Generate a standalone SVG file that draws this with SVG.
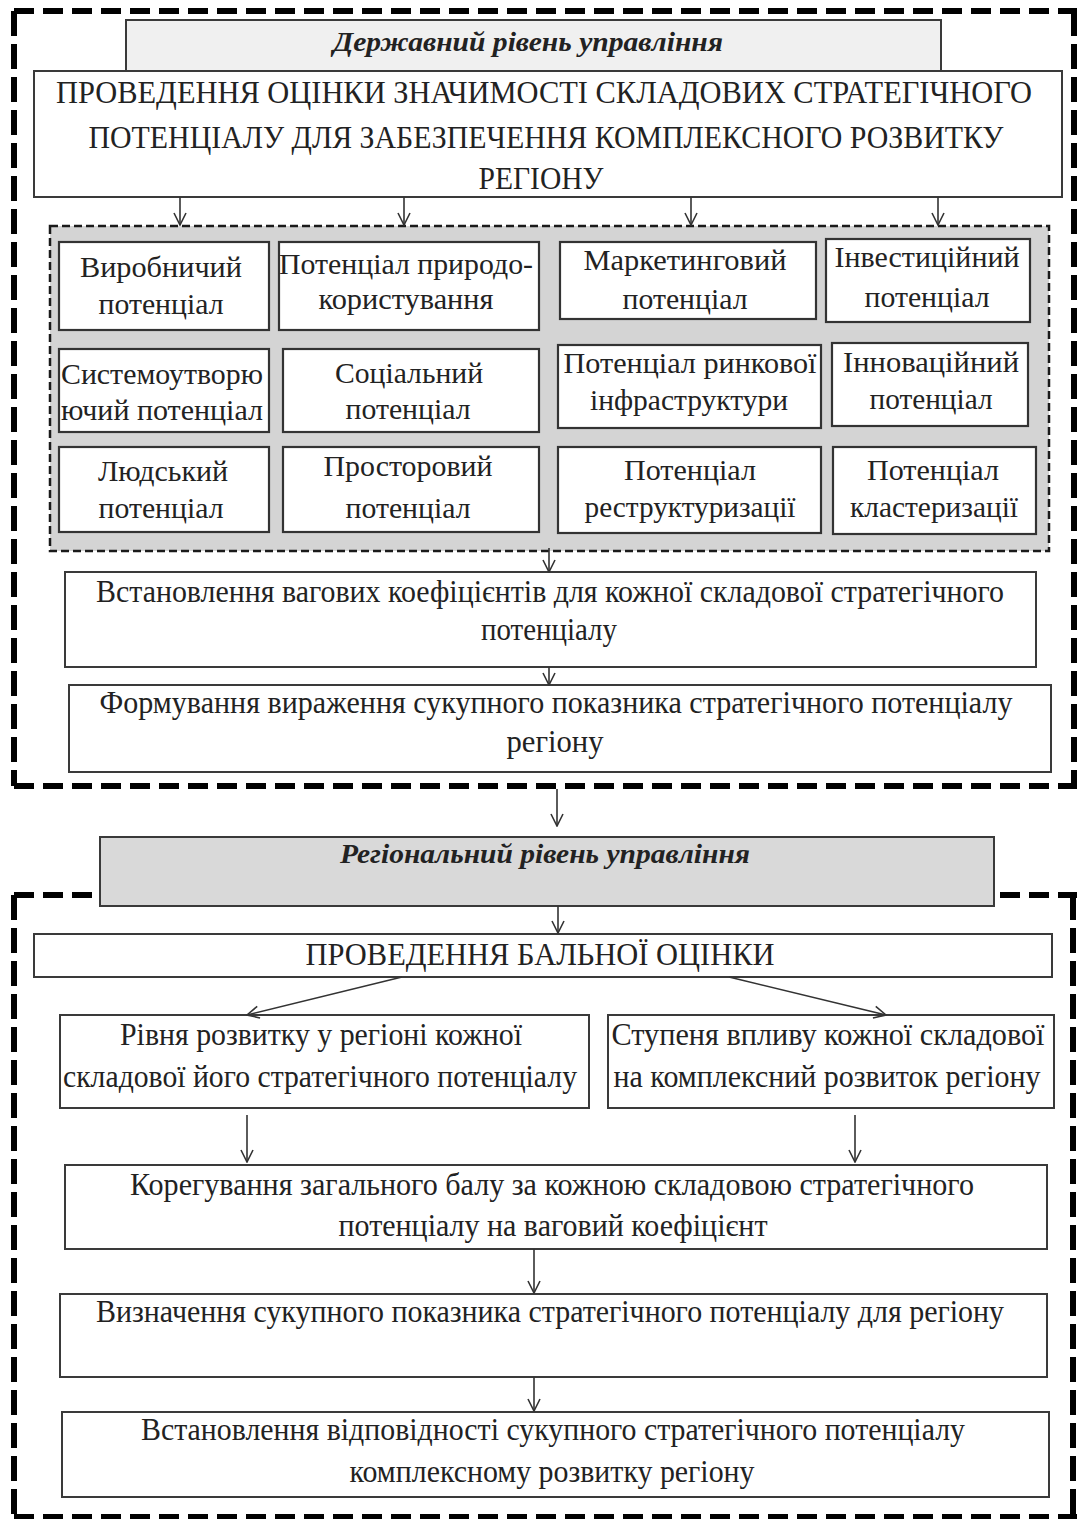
<svg xmlns="http://www.w3.org/2000/svg" width="1077" height="1519" viewBox="0 0 1077 1519">
<style>
.bg{fill:#ffffff}
.fh{stroke:#000;stroke-width:6;fill:none;stroke-dasharray:20 9}
.fv{stroke:#000;stroke-width:6;fill:none;stroke-dasharray:25 8}
.box{fill:#ffffff;stroke:#3a3a3a;stroke-width:2}
.cell{fill:#ffffff;stroke:#333;stroke-width:2.2}
.hd1{fill:#f0f0f0;stroke:#3a3a3a;stroke-width:2}
.hd2{fill:#d9d9d9;stroke:#3a3a3a;stroke-width:2}
.inner{fill:#d4d4d4;stroke:#1a1a1a;stroke-width:2.5;stroke-dasharray:8 4}
.t{font-family:"Liberation Serif","Times New Roman",serif;font-size:31px;fill:#222;text-anchor:middle}
.c{font-family:"Liberation Serif","Times New Roman",serif;font-size:30px;fill:#222;text-anchor:middle}
.h{font-family:"Liberation Serif","Times New Roman",serif;font-size:28px;font-weight:bold;font-style:italic;fill:#222;text-anchor:middle}
.ar{stroke:#333;stroke-width:1.6;fill:none;marker-end:url(#ah)}
</style>
<defs>
<marker id="ah" markerUnits="userSpaceOnUse" markerWidth="14" markerHeight="14" viewBox="0 0 14 14" refX="13" refY="7" orient="auto">
<path d="M1,1 L13,7 L1,13" fill="none" stroke="#333" stroke-width="1.6"/>
</marker>
</defs>
<rect class="bg" x="0" y="0" width="1077" height="1519"/>

<g id="frame-state">
<line class="fh" x1="14" y1="11" x2="1077" y2="11"/>
<line class="fv" x1="14" y1="11" x2="14" y2="786"/>
<line class="fv" x1="1074" y1="11" x2="1074" y2="786"/>
<line class="fh" x1="14" y1="786" x2="1077" y2="786"/>
</g>
<g id="frame-region">
<line class="fh" x1="14" y1="895" x2="1077" y2="895"/>
<line class="fv" x1="14" y1="895" x2="14" y2="1517"/>
<line class="fv" x1="1073" y1="895" x2="1073" y2="1517"/>
<line class="fh" x1="14" y1="1517" x2="1077" y2="1517"/>
</g>

<g id="header-state">
<rect class="hd1" x="126" y="20" width="815" height="52"/>
<text class="h" x="528" y="51" textLength="390" lengthAdjust="spacingAndGlyphs">Державний рівень управління</text>
</g>
<g id="main-assessment">
<rect class="box" x="34" y="71" width="1028" height="126"/>
<text class="t" x="544" y="103" textLength="976" lengthAdjust="spacingAndGlyphs">ПРОВЕДЕННЯ ОЦІНКИ ЗНАЧИМОСТІ СКЛАДОВИХ СТРАТЕГІЧНОГО</text>
<text class="t" x="546" y="148" textLength="915" lengthAdjust="spacingAndGlyphs">ПОТЕНЦІАЛУ ДЛЯ ЗАБЕЗПЕЧЕННЯ КОМПЛЕКСНОГО РОЗВИТКУ</text>
<text class="t" x="541" y="189" textLength="125" lengthAdjust="spacingAndGlyphs">РЕГІОНУ</text>
</g>

<g id="components">
<rect class="inner" x="50" y="226" width="999" height="325"/>
<g id="c-vyrobnychyi"><rect class="cell" x="59" y="242" width="210" height="88"/>
<text class="c" x="161" y="277" textLength="162" lengthAdjust="spacingAndGlyphs">Виробничий</text>
<text class="c" x="161" y="314" textLength="125" lengthAdjust="spacingAndGlyphs">потенціал</text></g>
<g id="c-pryrodo"><rect class="cell" x="279" y="242" width="260" height="88"/>
<text class="c" x="406" y="274" textLength="254" lengthAdjust="spacingAndGlyphs">Потенціал природо-</text>
<text class="c" x="406" y="309" textLength="175" lengthAdjust="spacingAndGlyphs">користування</text></g>
<g id="c-marketing"><rect class="cell" x="560" y="242" width="256" height="77"/>
<text class="c" x="685" y="270" textLength="203" lengthAdjust="spacingAndGlyphs">Маркетинговий</text>
<text class="c" x="685" y="309" textLength="125" lengthAdjust="spacingAndGlyphs">потенціал</text></g>
<g id="c-invest"><rect class="cell" x="826" y="239" width="204" height="83"/>
<text class="c" x="927" y="267" textLength="185" lengthAdjust="spacingAndGlyphs">Інвестиційний</text>
<text class="c" x="927" y="307" textLength="125" lengthAdjust="spacingAndGlyphs">потенціал</text></g>

<g id="c-systemo"><rect class="cell" x="59" y="349" width="210" height="83"/>
<text class="c" x="162" y="384" textLength="202" lengthAdjust="spacingAndGlyphs">Системоутворю</text>
<text class="c" x="162" y="420" textLength="202" lengthAdjust="spacingAndGlyphs">ючий потенціал</text></g>
<g id="c-social"><rect class="cell" x="283" y="349" width="256" height="83"/>
<text class="c" x="409" y="383" textLength="148" lengthAdjust="spacingAndGlyphs">Соціальний</text>
<text class="c" x="408" y="419" textLength="125" lengthAdjust="spacingAndGlyphs">потенціал</text></g>
<g id="c-market-infra"><rect class="cell" x="558" y="345" width="263" height="83"/>
<text class="c" x="690" y="373" textLength="253" lengthAdjust="spacingAndGlyphs">Потенціал ринкової</text>
<text class="c" x="689" y="410" textLength="198" lengthAdjust="spacingAndGlyphs">інфраструктури</text></g>
<g id="c-innov"><rect class="cell" x="832" y="343" width="196" height="83"/>
<text class="c" x="931" y="372" textLength="176" lengthAdjust="spacingAndGlyphs">Інноваційний</text>
<text class="c" x="931" y="409" textLength="123" lengthAdjust="spacingAndGlyphs">потенціал</text></g>

<g id="c-human"><rect class="cell" x="59" y="447" width="210" height="85"/>
<text class="c" x="163" y="481" textLength="130" lengthAdjust="spacingAndGlyphs">Людський</text>
<text class="c" x="161" y="518" textLength="125" lengthAdjust="spacingAndGlyphs">потенціал</text></g>
<g id="c-spatial"><rect class="cell" x="283" y="447" width="256" height="85"/>
<text class="c" x="408" y="476" textLength="169" lengthAdjust="spacingAndGlyphs">Просторовий</text>
<text class="c" x="408" y="518" textLength="125" lengthAdjust="spacingAndGlyphs">потенціал</text></g>
<g id="c-restruct"><rect class="cell" x="558" y="447" width="263" height="86"/>
<text class="c" x="690" y="480" textLength="132" lengthAdjust="spacingAndGlyphs">Потенціал</text>
<text class="c" x="690" y="517" textLength="211" lengthAdjust="spacingAndGlyphs">реструктуризації</text></g>
<g id="c-cluster"><rect class="cell" x="833" y="447" width="203" height="87"/>
<text class="c" x="933" y="480" textLength="132" lengthAdjust="spacingAndGlyphs">Потенціал</text>
<text class="c" x="934" y="517" textLength="168" lengthAdjust="spacingAndGlyphs">кластеризації</text></g>
</g>

<g id="weights">
<rect class="box" x="65" y="572" width="971" height="95"/>
<text class="t" x="550" y="602" textLength="908" lengthAdjust="spacingAndGlyphs">Встановлення вагових коефіцієнтів для кожної складової стратегічного</text>
<text class="t" x="549" y="640" textLength="136" lengthAdjust="spacingAndGlyphs">потенціалу</text>
</g>
<g id="expression">
<rect class="box" x="69" y="685" width="982" height="87"/>
<text class="t" x="556" y="713" textLength="913" lengthAdjust="spacingAndGlyphs">Формування вираження сукупного показника стратегічного потенціалу</text>
<text class="t" x="555" y="752" textLength="97" lengthAdjust="spacingAndGlyphs">регіону</text>
</g>

<g id="header-region">
<rect class="hd2" x="100" y="837" width="894" height="69"/>
<text class="h" x="545" y="863" textLength="410" lengthAdjust="spacingAndGlyphs">Регіональний рівень управління</text>
</g>
<g id="score">
<rect class="box" x="34" y="934" width="1018" height="43"/>
<text class="t" x="540" y="965" textLength="469" lengthAdjust="spacingAndGlyphs">ПРОВЕДЕННЯ БАЛЬНОЇ ОЦІНКИ</text>
</g>
<g id="level">
<rect class="box" x="60" y="1015" width="529" height="93"/>
<text class="t" x="321" y="1045" textLength="402" lengthAdjust="spacingAndGlyphs">Рівня розвитку у регіоні кожної</text>
<text class="t" x="320" y="1087" textLength="514" lengthAdjust="spacingAndGlyphs">складової його стратегічного потенціалу</text>
</g>
<g id="influence">
<rect class="box" x="608" y="1015" width="446" height="93"/>
<text class="t" x="828" y="1045" textLength="433" lengthAdjust="spacingAndGlyphs">Ступеня впливу кожної складової</text>
<text class="t" x="827" y="1087" textLength="427" lengthAdjust="spacingAndGlyphs">на комплексний розвиток регіону</text>
</g>
<g id="correction">
<rect class="box" x="65" y="1165" width="982" height="84"/>
<text class="t" x="552" y="1195" textLength="844" lengthAdjust="spacingAndGlyphs">Корегування загального балу за кожною складовою стратегічного</text>
<text class="t" x="553" y="1236" textLength="429" lengthAdjust="spacingAndGlyphs">потенціалу на ваговий коефіцієнт</text>
</g>
<g id="total">
<rect class="box" x="60" y="1294" width="987" height="83"/>
<text class="t" x="550" y="1322" textLength="908" lengthAdjust="spacingAndGlyphs">Визначення сукупного показника стратегічного потенціалу для регіону</text>
</g>
<g id="conformity">
<rect class="box" x="62" y="1412" width="987" height="85"/>
<text class="t" x="553" y="1440" textLength="824" lengthAdjust="spacingAndGlyphs">Встановлення відповідності сукупного стратегічного потенціалу</text>
<text class="t" x="552" y="1482" textLength="405" lengthAdjust="spacingAndGlyphs">комплексному розвитку регіону</text>
</g>

<g id="connectors">
<line class="ar" x1="180" y1="197" x2="180" y2="225"/>
<line class="ar" x1="404" y1="197" x2="404" y2="225"/>
<line class="ar" x1="691" y1="197" x2="691" y2="225"/>
<line class="ar" x1="938" y1="197" x2="938" y2="225"/>
<line class="ar" x1="549" y1="548" x2="549" y2="572"/>
<line class="ar" x1="549" y1="667" x2="549" y2="685"/>
<line class="ar" x1="557" y1="789" x2="557" y2="826"/>
<line class="ar" x1="558" y1="906" x2="558" y2="933"/>
<line class="ar" x1="402" y1="977" x2="247" y2="1015"/>
<line class="ar" x1="729" y1="977" x2="886" y2="1015"/>
<line class="ar" x1="247" y1="1115" x2="247" y2="1162"/>
<line class="ar" x1="855" y1="1115" x2="855" y2="1162"/>
<line class="ar" x1="534" y1="1249" x2="534" y2="1293"/>
<line class="ar" x1="534" y1="1377" x2="534" y2="1411"/>
</g>
</svg>
